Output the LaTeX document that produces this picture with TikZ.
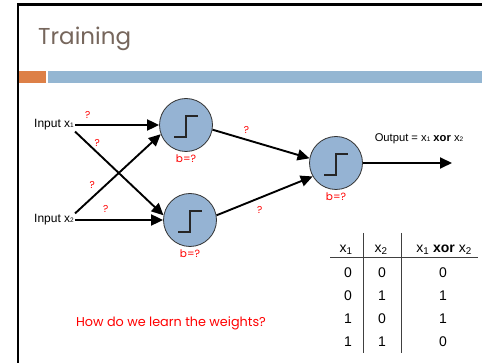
\documentclass[tikz,border=0pt]{standalone}
\usepackage{fontspec}
\setmainfont{Liberation Sans}
\newfontfamily\gothic{Poppins}
\usetikzlibrary{arrows.meta}

\definecolor{titlegray}{RGB}{118,102,92}
\definecolor{barorange}{RGB}{221,128,71}
\definecolor{barblue}{RGB}{148,182,210}
\definecolor{cellblue}{RGB}{149,179,211}

% small digit sitting on the baseline, as in x1
\newcommand{\lowdigit}[1]{{\fontsize{6.5}{7}\selectfont #1}}

\tikzset{
  neuron/.style={circle, draw=black!80, fill=cellblue, line width=0.8pt,
    minimum size=53pt, inner sep=0pt},
  weight/.style={text=red, font=\gothic\fontsize{10}{10}\selectfont, inner sep=1pt},
  bias/.style={text=red, font=\gothic\fontsize{10.5}{11}\selectfont, inner sep=1pt},
  wire/.style={line width=1.9pt, -{Triangle[length=12pt,width=11pt]}},
  inlabel/.style={font=\fontsize{12}{12}\selectfont, inner sep=1pt},
  cell/.style={font=\fontsize{14}{14}\selectfont, inner sep=1pt}
}

\begin{document}
\begin{tikzpicture}[x=1pt, y=-1pt]
    \useasboundingbox (0,0) rectangle (482,363);

    % slide frame and header
    \fill[barorange] (19,71) rectangle (46,83.5);
    \fill[barblue] (48,71) rectangle (482,83.5);
    \draw[line width=2.5pt] (18,363) -- (18,4.5) -- (482,4.5);
    \node[anchor=base west, inner sep=0, text=titlegray,
      font=\gothic\fontsize{23}{23}\selectfont] (title) at (38,45) {Training};

    % inputs
    \node[inlabel, anchor=west] (in1) at (33,125) {Input x\lowdigit{1}};
    \node[inlabel, anchor=west] (in2) at (33,220) {Input x\lowdigit{2}};

    % neurons
    \node[neuron, label={[bias, label distance=2pt]below:b=?}] (n1) at (186,125) {};
    \node[neuron, label={[bias, label distance=2pt]below:b=?}] (n2) at (190,220) {};
    \node[neuron, label={[bias, label distance=2pt]below:b=?}] (n3) at (336,163) {};
    \coordinate (out) at (452,163);

    \foreach \n in {n1,n2,n3}
        \draw[line width=1.2pt, black!85] ([shift={(-12,12)}]\n.center)
            -- ++(12,0) -- ++(0,-21) -- ++(12,0);

    % weights
    \path[wire] (in1) edge node[weight, pos=.15, above=4pt] {?} (n1);
    \path[wire] (in1.south east) edge node[weight, pos=.25, above=4pt] {?} (n2.170);
    \path[wire] (in2.north east) edge node[weight, pos=.2, above=7pt] {?} (n1.200);
    \path[wire] (in2) edge node[weight, pos=.35, above=5pt] {?} (n2);
    \path[wire] (n1.-10) edge node[weight, pos=.35, above=4pt] {?} (n3.170);
    \path[wire] (n2.10) edge node[weight, pos=.45, below=7pt] {?} (n3.210);
    \path[wire] (n3) edge (out);

    \node[inner sep=1pt, font=\fontsize{11.2}{12}\selectfont] (outlabel) at (419,139)
        {Output = x\lowdigit{1} \textbf{xor} x\lowdigit{2}};

    \node[text=red, font=\gothic\fontsize{12.8}{13}\selectfont] (question) at (171,323)
        {How do we learn the weights?};

    % truth table
    \node[cell] (h1) at (346,250) {x\textsubscript{1}};
    \node[cell] (h2) at (381,250) {x\textsubscript{2}};
    \node[cell] (h3) at (444,250) {x\textsubscript{1} \textbf{xor} x\textsubscript{2}};
    \foreach \a/\b/\c [count=\i] in {0/0/0,0/1/1,1/0/1,1/1/0} {
        \node[cell] (a\i) at (348,250+23*\i) {\a};
        \node[cell] (b\i) at (382,250+23*\i) {\b};
        \node[cell] (c\i) at (443,250+23*\i) {\c};
    }
    \draw[line width=0.8pt, black!75] (363,233) -- (363,353);
    \draw[line width=0.8pt, black!75] (401,233) -- (401,353);
    \draw[line width=0.8pt, black!75] (330,257) -- (478,257);
\end{tikzpicture}
\end{document}
